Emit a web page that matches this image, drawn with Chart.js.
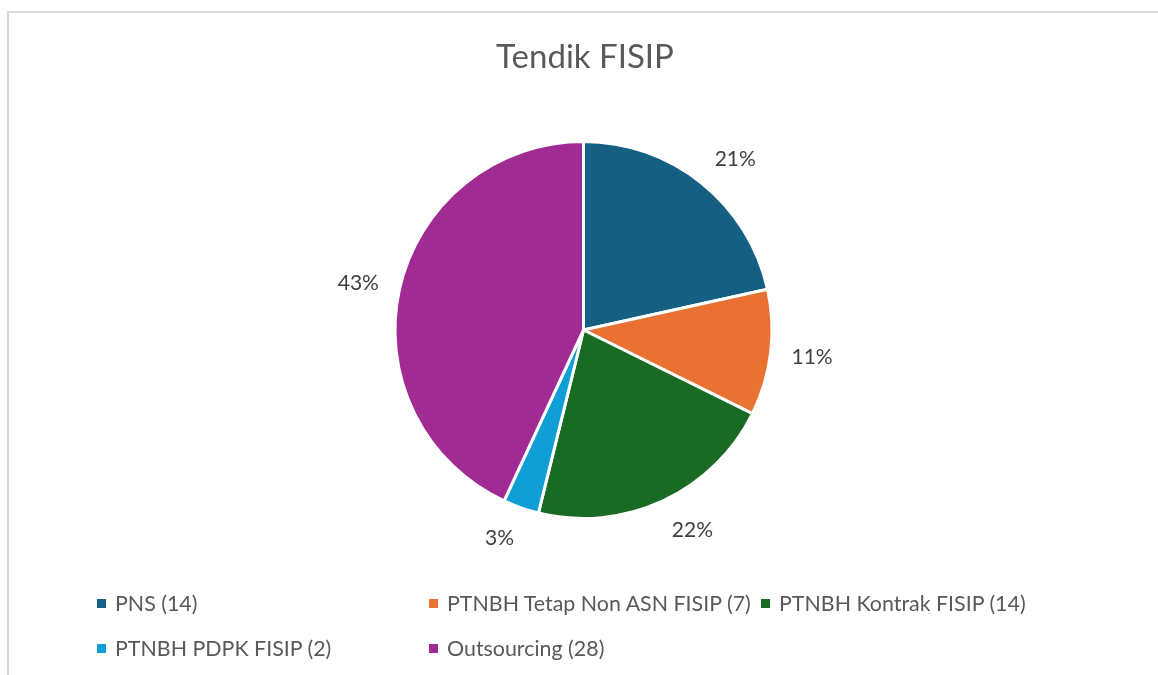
<!DOCTYPE html>
<html>
<head>
<meta charset="utf-8">
<script src="https://cdn.jsdelivr.net/npm/chart.js@4.4.1/dist/chart.umd.min.js"></script>
<style>
  html, body { margin: 0; padding: 0; background: #fff; }
  #wrap { position: relative; width: 1158px; height: 675px; overflow: hidden; font-family: Lato, "Open Sans", sans-serif; color: #595959; }
  #frame { position: absolute; left: 7px; top: 11px; width: 1200px; height: 700px; border-left: 2px solid #d9d9d9; border-top: 2px solid #d9d9d9; box-sizing: border-box; }
  #c { position: absolute; left: 0; top: 0; }
  #title { position: absolute; left: 0; width: 1170px; top: 33px; text-align: center; font-size: 33px; line-height: 44px; }
  .lg { position: absolute; font-size: 21.4px; line-height: 26px; white-space: nowrap; }
  .lg i { position: absolute; width: 9px; height: 9px; left: -18px; top: 9px; }
</style>
</head>
<body>
<div id="wrap">
  <div id="frame"></div>
  <canvas id="c" width="1158" height="675"></canvas>
  <div id="title"></div>
  <div id="legend"></div>
</div>
<script>
const chartTitle = "Tendik FISIP";
const categories = ["PNS (14)", "PTNBH Tetap Non ASN FISIP (7)", "PTNBH Kontrak FISIP (14)", "PTNBH PDPK FISIP (2)", "Outsourcing (28)"];
const values = [14, 7, 14, 2, 28];
const percentLabels = ["21%", "11%", "22%", "3%", "43%"];
const colors = ["#156082", "#E97132", "#196B24", "#0F9ED5", "#A02B93"];

document.getElementById('title').textContent = chartTitle;

// legend grid positions (text-left x, top y)
const legendPos = [[115, 590], [447, 590], [779, 590], [115, 635], [447, 635]];
const lg = document.getElementById('legend');
categories.forEach((c, i) => {
  const d = document.createElement('div');
  d.className = 'lg';
  d.style.left = legendPos[i][0] + 'px';
  d.style.top = legendPos[i][1] + 'px';
  const m = document.createElement('i');
  m.style.background = colors[i];
  d.appendChild(m);
  d.appendChild(document.createTextNode(c));
  lg.appendChild(d);
});

const outsideLabels = {
  id: 'outsideLabels',
  afterDatasetsDraw(chart) {
    const ctx = chart.ctx;
    const meta = chart.getDatasetMeta(0);
    ctx.save();
    ctx.font = '21px Lato, "Open Sans", sans-serif';
    ctx.fillStyle = '#404040';
    ctx.textAlign = 'center';
    ctx.textBaseline = 'middle';
    meta.data.forEach((arc, i) => {
      const mid = (arc.startAngle + arc.endAngle) / 2;
      const dx = Math.cos(mid), dy = Math.sin(mid);
      const R = arc.outerRadius + 21;
      const hw = ctx.measureText(percentLabels[i]).width / 2;
      const x = arc.x + R * dx + hw * Math.sign(dx);
      const y = arc.y + (R + 10.5) * dy + 1;
      ctx.fillText(percentLabels[i], x, y);
    });
    ctx.restore();
  }
};

new Chart(document.getElementById('c'), {
  type: 'pie',
  data: {
    labels: categories,
    datasets: [{
      data: values,
      backgroundColor: colors,
      borderColor: '#ffffff',
      borderWidth: 3,
      hoverOffset: 0
    }]
  },
  options: {
    responsive: false,
    animation: false,
    layout: { padding: { top: 140, bottom: 155, left: 9, right: 0 } },
    plugins: {
      legend: { display: false },
      title: { display: false },
      tooltip: { enabled: false }
    }
  },
  plugins: [outsideLabels]
});
</script>
</body>
</html>
